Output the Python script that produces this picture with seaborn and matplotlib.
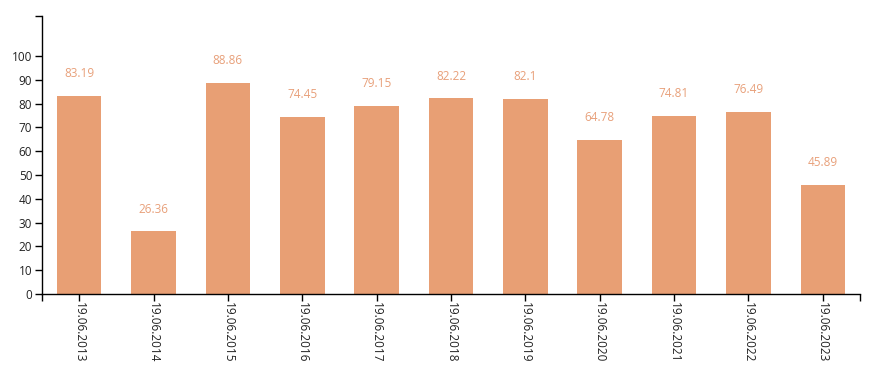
import matplotlib
matplotlib.use("Agg")
import matplotlib.pyplot as plt
import seaborn as sns
import pandas as pd

dates = ["19.06.2013", "19.06.2014", "19.06.2015", "19.06.2016", "19.06.2017",
         "19.06.2018", "19.06.2019", "19.06.2020", "19.06.2021", "19.06.2022",
         "19.06.2023"]
values = [83.19, 26.36, 88.86, 74.45, 79.15, 82.22, 82.1, 64.78, 74.81, 76.49, 45.89]
labels = ["83.19", "26.36", "88.86", "74.45", "79.15", "82.22", "82.1", "64.78",
          "74.81", "76.49", "45.89"]
yticks = [0, 10, 20, 30, 40, 50, 60, 70, 80, 90, 100]

sns.set_theme(style="white")
plt.rcParams['font.family'] = ['Open Sans', 'DejaVu Sans']

df = pd.DataFrame({"date": dates, "value": values})

fig = plt.figure(figsize=(8.8, 3.74), dpi=100)
ax = fig.add_axes([42/880, 80/374, 818/880, 278/374])

bar_color = "#E89F74"
sns.barplot(data=df, x="date", y="value", color=bar_color, width=0.6,
            saturation=1, linewidth=0, ax=ax)

ax.set_ylim(0, 116.8)
ax.set_xlim(-0.5, len(dates) - 0.5)
ax.set_yticks(yticks)
ax.set_yticklabels([str(t) for t in yticks], fontsize=8.5, color="#222222")
ax.set_xticks(range(len(dates)))
ax.set_xticklabels(dates, rotation=-90, fontsize=8.5, color="#222222")
ax.set_xlabel("")
ax.set_ylabel("")

# outer ticks at domain ends (d3 style)
ax.set_yticks([116.8], minor=True)
ax.set_xticks([-0.5, len(dates) - 0.5], minor=True)
ax.tick_params(axis="both", which="both", direction="out", length=5, width=1,
               color="#000000", left=True, bottom=True)
ax.tick_params(axis="y", which="major", pad=2)
ax.tick_params(axis="x", which="major", pad=0.5)

for s in ["top", "right"]:
    ax.spines[s].set_visible(False)
for s in ["left", "bottom"]:
    ax.spines[s].set_color("#000000")
    ax.spines[s].set_linewidth(1)

for i, (v, lab) in enumerate(zip(values, labels)):
    ax.annotate(lab, (i, v), xytext=(0, 16), textcoords="offset points",
                ha="center", va="center", fontsize=8.5, color="#E8A07A")

fig.savefig("out.png", dpi=100)
